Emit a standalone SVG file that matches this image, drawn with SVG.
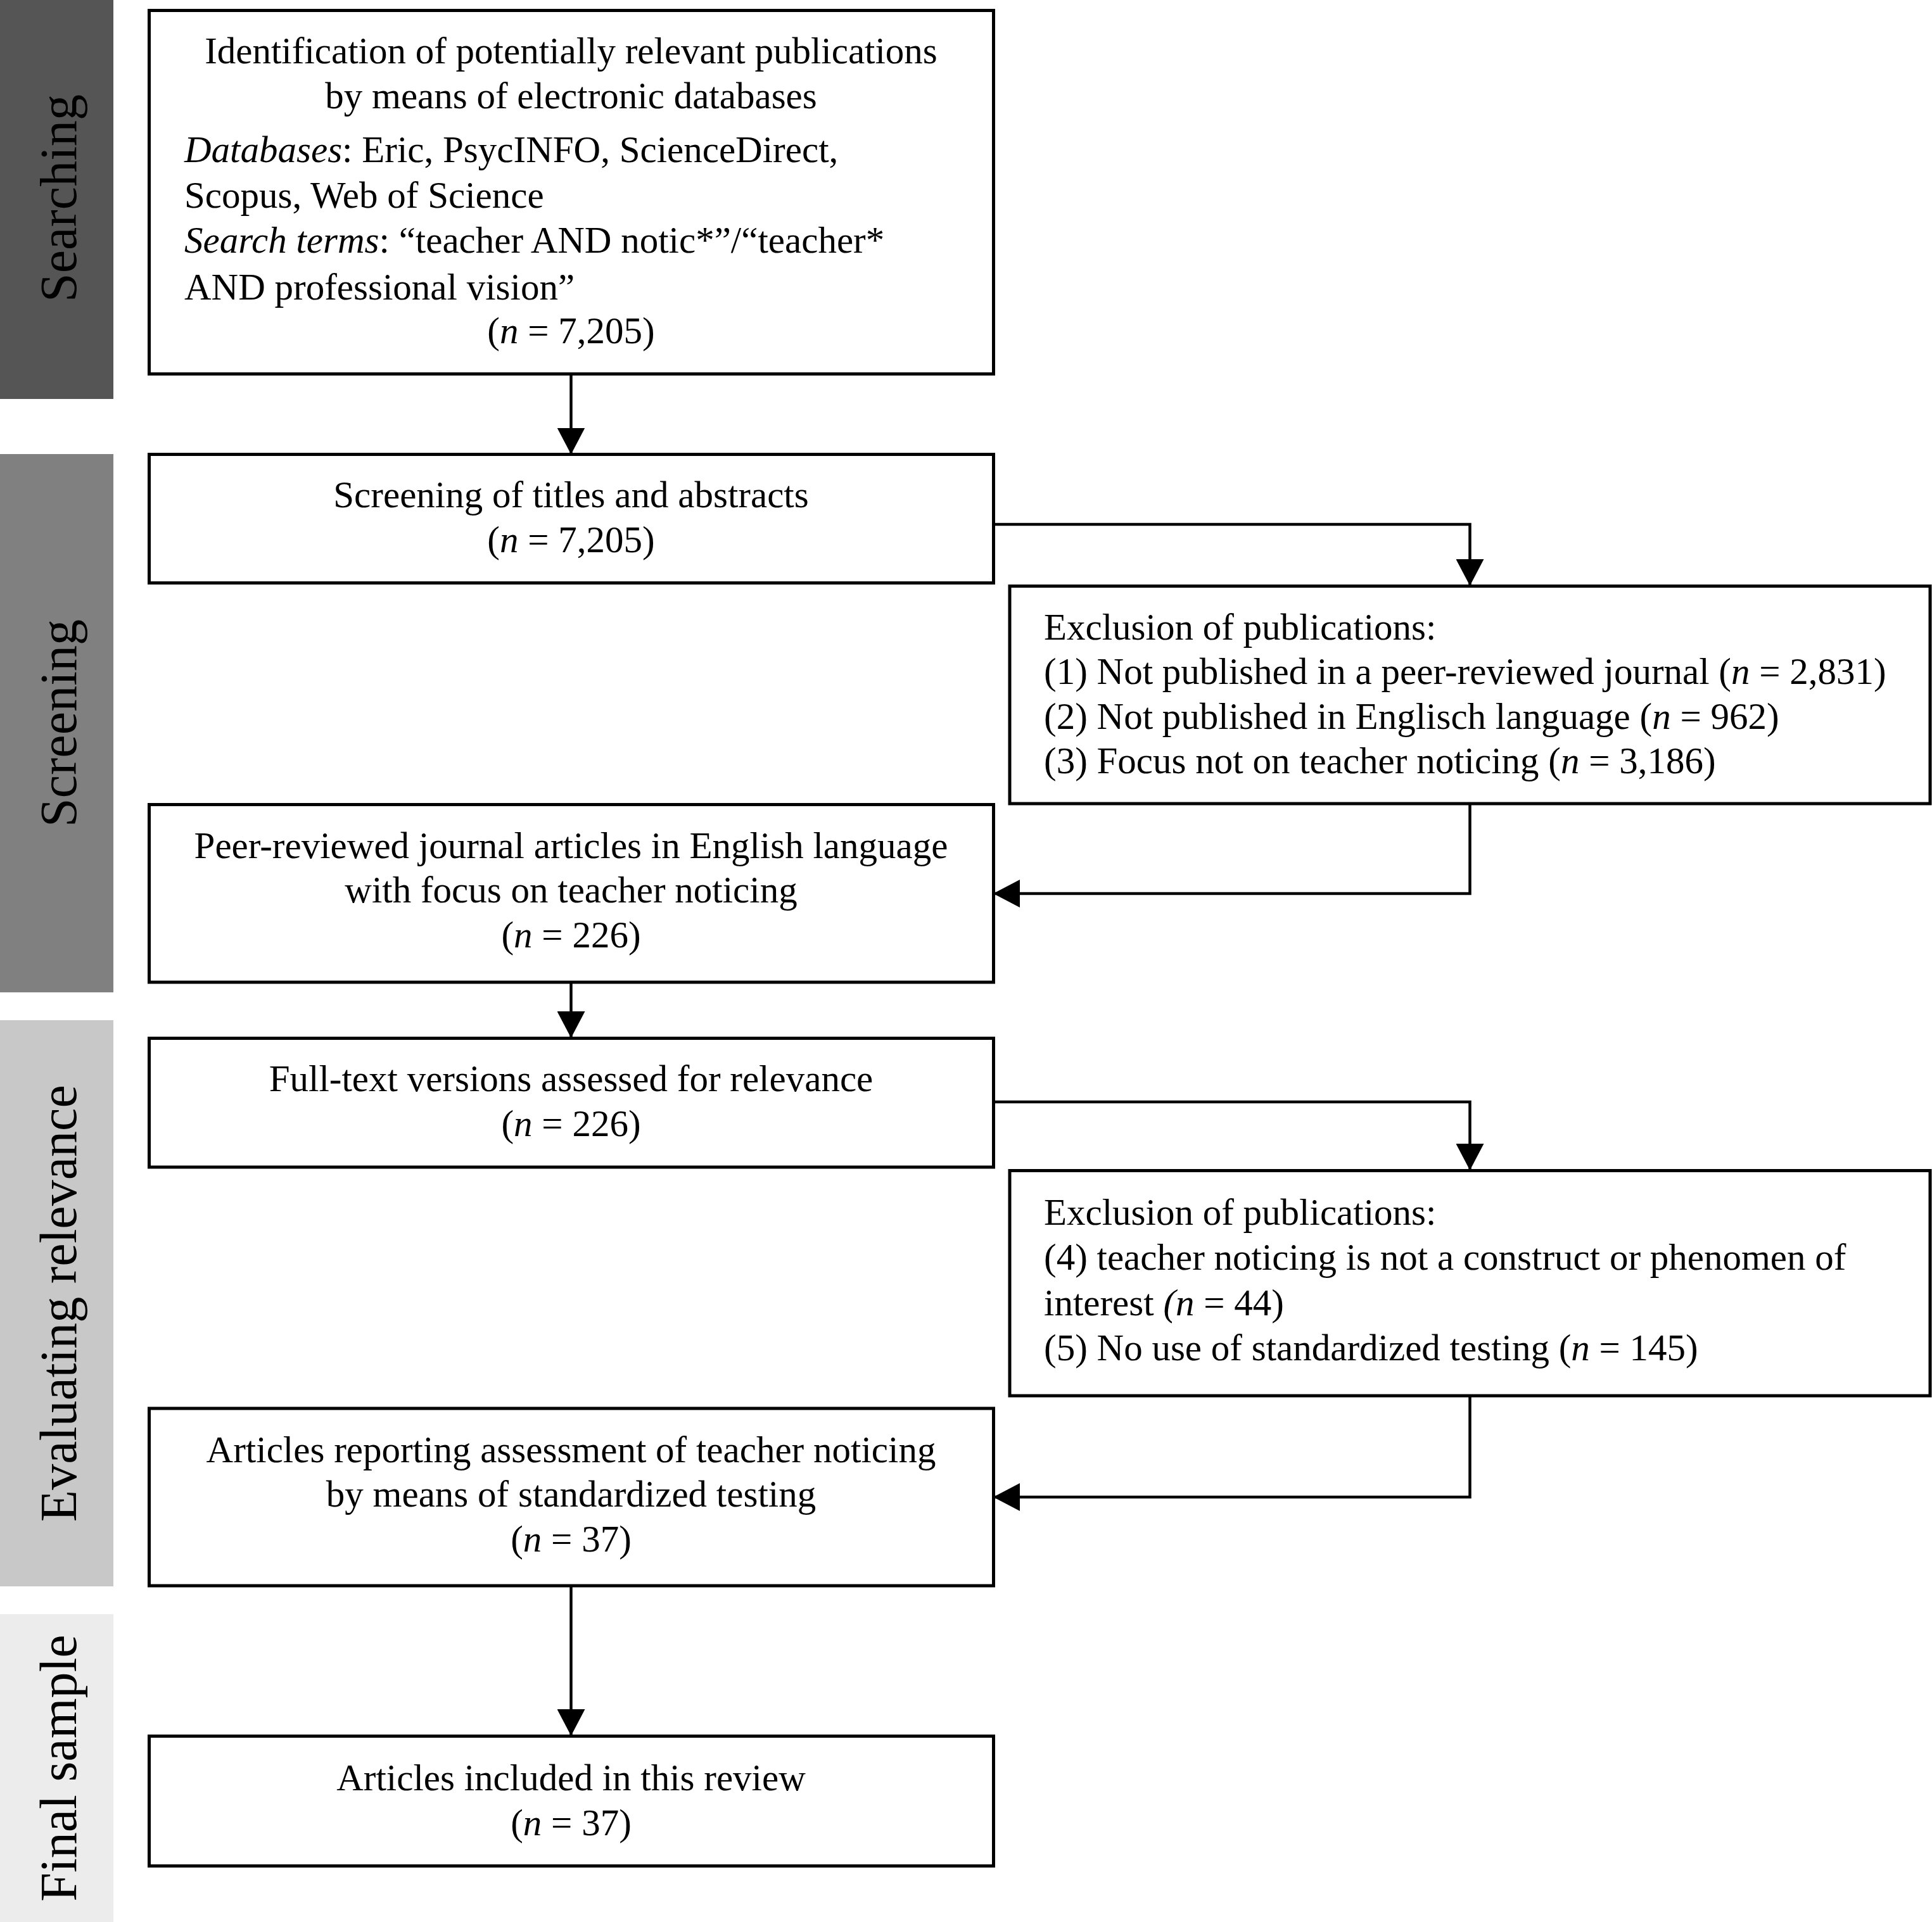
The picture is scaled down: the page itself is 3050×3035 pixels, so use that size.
<svg xmlns="http://www.w3.org/2000/svg" width="3050" height="3035" viewBox="0 0 3050 3035">
<style>
  text { font-family: "Liberation Serif", "Times New Roman", serif; fill: #000; }
  .t { font-size: 59px; }
  .c { text-anchor: middle; }
  .side { font-size: 82px; text-anchor: middle; }
  .box { fill: #fff; stroke: #000; stroke-width: 5; }
  .conn { fill: none; stroke: #000; stroke-width: 4.5; marker-end: url(#arrow); }
  .i { font-style: italic; }
</style>
<defs>
  <marker id="arrow" markerUnits="userSpaceOnUse" markerWidth="42" markerHeight="44" viewBox="0 0 42 44" refX="42" refY="22" orient="auto">
    <path d="M0,0 L42,22 L0,44 z" fill="#000"/>
  </marker>
</defs>
<rect width="3050" height="3035" fill="#fff"/>

<g id="stages">
  <rect x="0" y="0" width="179" height="630" fill="#555555"/>
  <text class="side" transform="translate(120,313) rotate(-90)">Searching</text>
  <rect x="0" y="717" width="179" height="850" fill="#808080"/>
  <text class="side" transform="translate(120,1142) rotate(-90)">Screening</text>
  <rect x="0" y="1611" width="179" height="894" fill="#c8c8c8"/>
  <text class="side" transform="translate(120,2058) rotate(-90)">Evaluating relevance</text>
  <rect x="0" y="2549" width="179" height="486" fill="#ececec"/>
  <text class="side" transform="translate(120,2792) rotate(-90)">Final sample</text>
</g>

<g id="connectors">
  <path class="conn" d="M901.5,590.5 V717.5"/>
  <path class="conn" d="M1568,828 H2320.5 V925"/>
  <path class="conn" d="M2320.5,1269 V1411 H1568"/>
  <path class="conn" d="M901.5,1551 V1639"/>
  <path class="conn" d="M1568,1740 H2320.5 V1848"/>
  <path class="conn" d="M2320.5,2204 V2364 H1568"/>
  <path class="conn" d="M901.5,2504 V2741"/>
</g>

<g id="identification">
  <rect class="box" x="235.5" y="16.5" width="1333" height="574"/>
  <text class="t c" x="901.5" y="100">Identification of potentially relevant publications</text>
  <text class="t c" x="901.5" y="171">by means of electronic databases</text>
  <text class="t" x="291" y="256"><tspan class="i">Databases</tspan>: Eric, PsycINFO, ScienceDirect,</text>
  <text class="t" x="291" y="328">Scopus, Web of Science</text>
  <text class="t" x="291" y="399"><tspan class="i">Search terms</tspan>: “teacher AND notic*”/“teacher*</text>
  <text class="t" x="291" y="473">AND professional vision”</text>
  <text class="t c" x="901.5" y="542">(<tspan class="i">n</tspan> = 7,205)</text>
</g>

<g id="screening">
  <rect class="box" x="235.5" y="717.5" width="1333" height="203"/>
  <text class="t c" x="901.5" y="801">Screening of titles and abstracts</text>
  <text class="t c" x="901.5" y="872">(<tspan class="i">n</tspan> = 7,205)</text>
</g>

<g id="exclusion1">
  <rect class="box" x="1594" y="925.5" width="1453" height="343.5"/>
  <text class="t" x="1648" y="1010">Exclusion of publications:</text>
  <text class="t" x="1648" y="1080">(1) Not published in a peer-reviewed journal (<tspan class="i">n</tspan> = 2,831)</text>
  <text class="t" x="1648" y="1151">(2) Not published in Englisch language (<tspan class="i">n</tspan> = 962)</text>
  <text class="t" x="1648" y="1221">(3) Focus not on teacher noticing (<tspan class="i">n</tspan> = 3,186)</text>
</g>

<g id="peer-reviewed">
  <rect class="box" x="235.5" y="1270.5" width="1333" height="280.5"/>
  <text class="t c" x="901.5" y="1355">Peer-reviewed journal articles in English language</text>
  <text class="t c" x="901.5" y="1425">with focus on teacher noticing</text>
  <text class="t c" x="901.5" y="1496">(<tspan class="i">n</tspan> = 226)</text>
</g>

<g id="fulltext">
  <rect class="box" x="235.5" y="1639.5" width="1333" height="203.5"/>
  <text class="t c" x="901.5" y="1723">Full-text versions assessed for relevance</text>
  <text class="t c" x="901.5" y="1794">(<tspan class="i">n</tspan> = 226)</text>
</g>

<g id="exclusion2">
  <rect class="box" x="1594" y="1848.5" width="1453" height="355.5"/>
  <text class="t" x="1648" y="1934">Exclusion of publications:</text>
  <text class="t" x="1648" y="2005">(4) teacher noticing is not a construct or phenomen of</text>
  <text class="t" x="1648" y="2077">interest <tspan class="i">(n</tspan> = 44)</text>
  <text class="t" x="1648" y="2148">(5) No use of standardized testing (<tspan class="i">n</tspan> = 145)</text>
</g>

<g id="standardized">
  <rect class="box" x="235.5" y="2224" width="1333" height="280"/>
  <text class="t c" x="901.5" y="2309">Articles reporting assessment of teacher noticing</text>
  <text class="t c" x="901.5" y="2379">by means of standardized testing</text>
  <text class="t c" x="901.5" y="2450">(<tspan class="i">n</tspan> = 37)</text>
</g>

<g id="included">
  <rect class="box" x="235.5" y="2741.5" width="1333" height="205"/>
  <text class="t c" x="901.5" y="2827">Articles included in this review</text>
  <text class="t c" x="901.5" y="2898">(<tspan class="i">n</tspan> = 37)</text>
</g>
</svg>
